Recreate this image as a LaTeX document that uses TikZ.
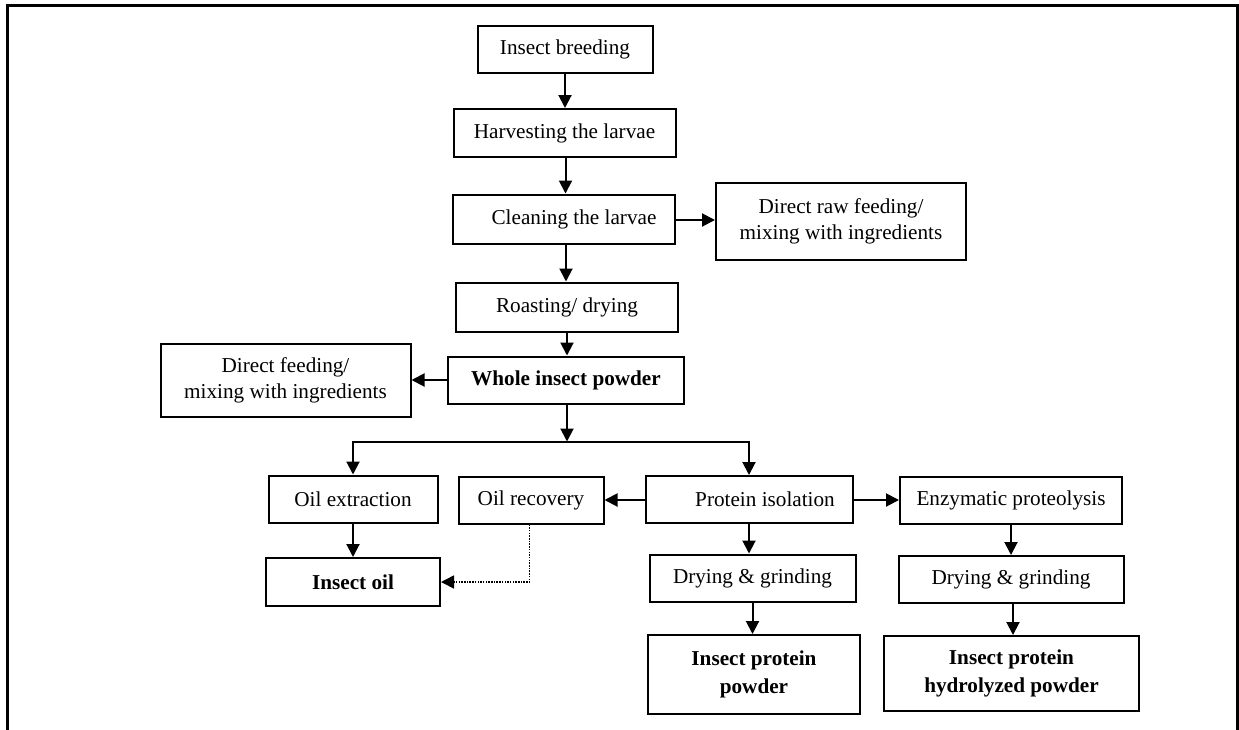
\documentclass[tikz,border=0pt]{standalone}
\usepackage{fontspec}
\setmainfont{Liberation Serif}
\usetikzlibrary{arrows.meta,calc}
\begin{document}
\begin{tikzpicture}[x=1pt,y=-1pt,
  box/.style={draw, line width=2pt, inner sep=0pt, align=center, font=\fontsize{21.2}{26}\selectfont},
  bbox/.style={box, font=\fontsize{21.2}{28}\selectfont\bfseries},
  arr/.style={line width=2pt, -{Triangle[length=13pt,width=13pt]}},
  dotarr/.style={line width=1.6pt, dash pattern=on 1.5pt off 1.2pt, -{Triangle[length=13pt,width=13pt]}},
  frame/.style={line width=2.4pt}
]
\useasboundingbox (0,0) rectangle (1239,729);
\draw[frame] (7.5,730) -- (7.5,5.5) -- (1237.5,5.5) -- (1237.5,730);

\node[box, minimum width=175pt, minimum height=47pt] (breed) at (565,49) {Insect breeding};
\node[box, minimum width=222pt, minimum height=48pt] (harv) at (564.5,133) {Harvesting the larvae};
\node[box, minimum width=222pt, minimum height=49pt] (clean) at (564,219) {\hspace*{20pt}Cleaning the larvae};
\node[box, minimum width=250pt, minimum height=77pt] (raw) at (841,221) {Direct raw feeding/\\mixing with ingredients};
\node[box, minimum width=222pt, minimum height=49pt] (roast) at (567,307) {Roasting/ drying};
\node[bbox, minimum width=236pt, minimum height=47pt] (whole) at (566,380) {Whole insect powder};
\node[box, minimum width=250pt, minimum height=73pt] (feed) at (285.5,380) {Direct feeding/\\mixing with ingredients};
\node[box, minimum width=169pt, minimum height=47pt] (oilx) at (353,499) {Oil extraction};
\node[box, minimum width=145pt, minimum height=47pt] (oilr) at (531,500) {Oil recovery};
\node[box, minimum width=207pt, minimum height=47pt] (prot) at (749,499.5) {\hspace*{32pt}Protein isolation};
\node[box, minimum width=222pt, minimum height=47pt] (enz) at (1011,500) {Enzymatic proteolysis};
\node[box, minimum width=206pt, minimum height=47pt] (dry1) at (752.5,578) {Drying \& grinding};
\node[box, minimum width=225pt, minimum height=47pt] (dry2) at (1011,579.5) {Drying \& grinding};
\node[bbox, minimum width=174pt, minimum height=48pt] (oil) at (353,582) {Insect oil};
\node[bbox, minimum width=212pt, minimum height=79pt] (ipp) at (754,674.5) {Insect protein\\powder};
\node[bbox, minimum width=255pt, minimum height=75pt] (hyd) at (1011.5,673.5) {Insect protein\\hydrolyzed powder};

\coordinate (j) at (567,441.5);
\coordinate (jl) at (353,441.5);
\coordinate (jr) at (749,441.5);
\coordinate (bend) at (529.5,582);

\draw[arr] (breed.south) -- (breed.south |- harv.north);
\draw[arr] ($(harv.south)+(1,0)$) -- ($(harv.south |- clean.north)+(1,0)$);
\draw[arr] ($(clean.south)+(2,0)$) -- ($(clean.south |- roast.north)+(2,0)$);
\draw[arr] (clean.east |- 0,220) -- (raw.west |- 0,220);
\draw[arr] (roast.south) -- (roast.south |- whole.north);
\draw[arr] (whole.west) -- (feed.east |- whole.west);
\draw[arr] (j |- whole.south) -- (j);
\draw[line width=2pt, line cap=rect] (jl) -- (jr);
\draw[arr] (jl) -- (jl |- oilx.north);
\draw[arr] (jr) -- (jr |- prot.north);
\draw[arr] (prot.west |- 0,500) -- (oilr.east |- 0,500);
\draw[arr] (prot.east |- 0,500) -- (enz.west |- 0,500);
\draw[arr] (oilx.south) -- (oilx.south |- oil.north);
\draw[dotarr] (bend |- oilr.south) -- (bend) -- (oil.east);
\draw[arr] (prot.south) -- (prot.south |- dry1.north);
\draw[arr] (dry1.south) -- (dry1.south |- ipp.north);
\draw[arr] (enz.south) -- (enz.south |- dry2.north);
\draw[arr] ($(dry2.south)+(2,0)$) -- ($(dry2.south |- hyd.north)+(2,0)$);
\end{tikzpicture}
\end{document}
